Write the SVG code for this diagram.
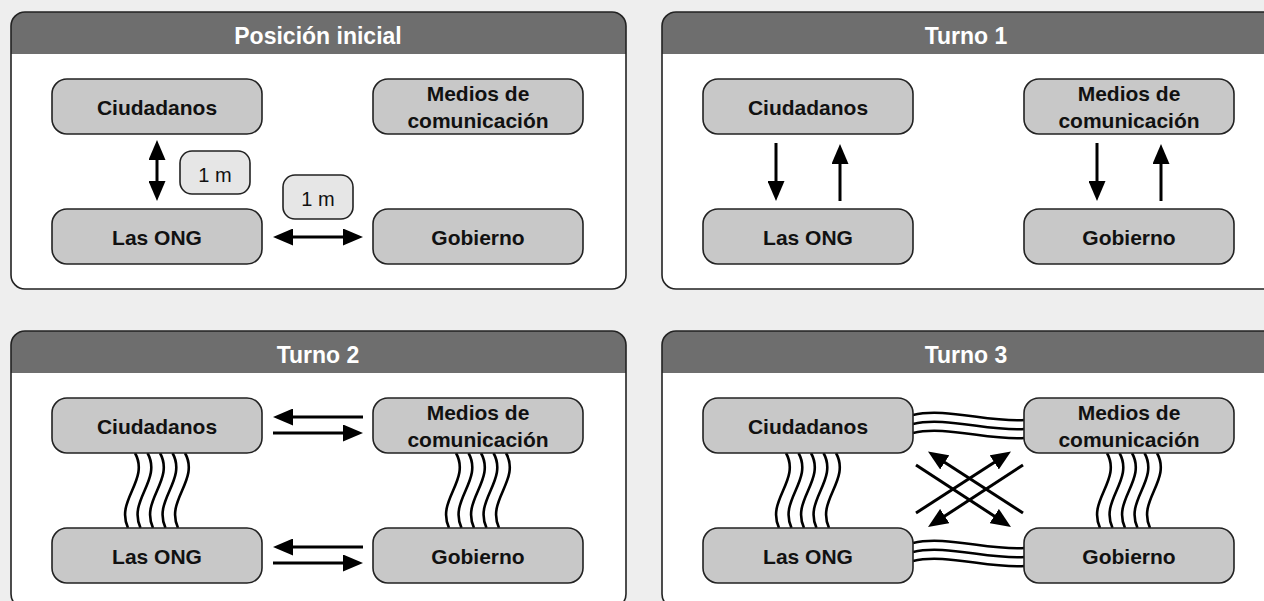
<svg xmlns="http://www.w3.org/2000/svg" width="1264" height="601" viewBox="0 0 1264 601">
<style>
.panel{fill:#ffffff;stroke:none}
.outline{fill:none;stroke:#222;stroke-width:1.6}
.hdr{fill:#6e6e6e}
.htxt{font-family:"Liberation Sans",Arial,sans-serif;font-weight:bold;font-size:23px;fill:#ffffff;text-anchor:middle}
.node rect{fill:#c8c8c8;stroke:#222;stroke-width:1.6}
.node text{font-family:"Liberation Sans",Arial,sans-serif;font-weight:bold;font-size:21px;fill:#111;text-anchor:middle}
.lbl rect{fill:#e6e6e6;stroke:#222;stroke-width:1.6}
.lbl text{font-family:"Liberation Sans",Arial,sans-serif;font-size:20px;fill:#111;text-anchor:middle}
.arr{stroke:#000;stroke-width:3;fill:none}
.wave{stroke:#000;stroke-width:2.6;fill:none}
</style>
<defs>
<marker id="ah" markerUnits="userSpaceOnUse" markerWidth="20" markerHeight="17" refX="10" refY="8.5" orient="auto-start-reverse" viewBox="0 0 20 17">
<path d="M0,0 L20,8.5 L0,17 Z" fill="#000"/>
</marker>
<g id="wv">
<path class="wave" d="M0,453 C15,480 -20,500 -7,528"/>
<path class="wave" d="M12.5,453 C27.5,480 -7.5,500 5.5,528"/>
<path class="wave" d="M25,453 C40,480 5,500 18,528"/>
<path class="wave" d="M37.5,453 C52.5,480 17.5,500 30.5,528"/>
<path class="wave" d="M50,453 C65,480 30,500 43,528"/>
</g>
<g id="hw">
<path class="wave" d="M913,0 C945,-8 990,8 1025,5"/>
<path class="wave" d="M913,9 C945,1 990,17 1025,14"/>
<path class="wave" d="M913,18 C945,10 990,26 1025,23"/>
</g>
</defs>
<rect x="0" y="0" width="1264" height="601" fill="#eeeeee"/>

<g id="panel-posicion-inicial">
<rect class="panel" x="11" y="12" width="615" height="277" rx="14"/>
<path class="hdr" d="M11,54 V26 A14,14 0 0 1 25,12 H612 A14,14 0 0 1 626,26 V54 Z"/>
<rect class="outline" x="11" y="12" width="615" height="277" rx="14"/>
<text class="htxt" x="318" y="44">Posición inicial</text>
</g>
<g id="panel-turno-1" transform="translate(651,0)">
<rect class="panel" x="11" y="12" width="615" height="277" rx="14"/>
<path class="hdr" d="M11,54 V26 A14,14 0 0 1 25,12 H612 A14,14 0 0 1 626,26 V54 Z"/>
<rect class="outline" x="11" y="12" width="615" height="277" rx="14"/>
<text class="htxt" x="315" y="44">Turno 1</text>
</g>
<g id="panel-turno-2" transform="translate(0,319)">
<rect class="panel" x="11" y="12" width="615" height="277" rx="14"/>
<path class="hdr" d="M11,54 V26 A14,14 0 0 1 25,12 H612 A14,14 0 0 1 626,26 V54 Z"/>
<rect class="outline" x="11" y="12" width="615" height="277" rx="14"/>
<text class="htxt" x="318" y="44">Turno 2</text>
</g>
<g id="panel-turno-3" transform="translate(651,319)">
<rect class="panel" x="11" y="12" width="615" height="277" rx="14"/>
<path class="hdr" d="M11,54 V26 A14,14 0 0 1 25,12 H612 A14,14 0 0 1 626,26 V54 Z"/>
<rect class="outline" x="11" y="12" width="615" height="277" rx="14"/>
<text class="htxt" x="315" y="44">Turno 3</text>
</g>

<g id="connectors">
<!-- Posicion inicial -->
<line class="arr" x1="157" y1="150" x2="157" y2="191" marker-start="url(#ah)" marker-end="url(#ah)"/>
<line class="arr" x1="283" y1="237" x2="353" y2="237" marker-start="url(#ah)" marker-end="url(#ah)"/>
<!-- Turno 1 -->
<line class="arr" x1="776" y1="143" x2="776" y2="191" marker-end="url(#ah)"/>
<line class="arr" x1="840" y1="201" x2="840" y2="154" marker-end="url(#ah)"/>
<line class="arr" x1="1097" y1="143" x2="1097" y2="191" marker-end="url(#ah)"/>
<line class="arr" x1="1161" y1="201" x2="1161" y2="154" marker-end="url(#ah)"/>
<!-- Turno 2 -->
<line class="arr" x1="363" y1="417" x2="283" y2="417" marker-end="url(#ah)"/>
<line class="arr" x1="273" y1="433" x2="353" y2="433" marker-end="url(#ah)"/>
<line class="arr" x1="363" y1="547" x2="283" y2="547" marker-end="url(#ah)"/>
<line class="arr" x1="273" y1="563" x2="353" y2="563" marker-end="url(#ah)"/>
<use href="#wv" transform="translate(135,0)"/>
<use href="#wv" transform="translate(456,0)"/>
<!-- Turno 3 -->
<use href="#wv" transform="translate(786,0)"/>
<use href="#wv" transform="translate(1107,0)"/>
<use href="#hw" transform="translate(0,415)"/>
<use href="#hw" transform="translate(0,543)"/>
<line class="arr" x1="1023" y1="513" x2="936.4" y2="456.9" marker-end="url(#ah)"/>
<line class="arr" x1="916" y1="513" x2="1002.6" y2="456.9" marker-end="url(#ah)"/>
<line class="arr" x1="1023" y1="465" x2="936.4" y2="521.5" marker-end="url(#ah)"/>
<line class="arr" x1="916" y1="465" x2="1002.6" y2="521.5" marker-end="url(#ah)"/>
</g>

<g id="labels">
<g id="lbl-1" class="lbl"><rect x="180" y="151" width="70" height="43" rx="12"/><text x="215" y="181.5">1 m</text></g>
<g id="lbl-2" class="lbl"><rect x="283" y="175" width="70" height="44" rx="12"/><text x="318" y="206">1 m</text></g>
</g>

<g id="p1-ciudadanos" class="node"><rect x="52" y="79" width="210" height="55" rx="15"/><text x="157" y="115">Ciudadanos</text></g>
<g id="p1-medios" class="node"><rect x="373" y="79" width="210" height="55" rx="15"/><text x="478" y="100.5">Medios de</text><text x="478" y="127.5">comunicación</text></g>
<g id="p1-ong" class="node"><rect x="52" y="209" width="210" height="55" rx="15"/><text x="157" y="245">Las ONG</text></g>
<g id="p1-gobierno" class="node"><rect x="373" y="209" width="210" height="55" rx="15"/><text x="478" y="245">Gobierno</text></g>

<g id="p2-ciudadanos" class="node"><rect x="703" y="79" width="210" height="55" rx="15"/><text x="808" y="115">Ciudadanos</text></g>
<g id="p2-medios" class="node"><rect x="1024" y="79" width="210" height="55" rx="15"/><text x="1129" y="100.5">Medios de</text><text x="1129" y="127.5">comunicación</text></g>
<g id="p2-ong" class="node"><rect x="703" y="209" width="210" height="55" rx="15"/><text x="808" y="245">Las ONG</text></g>
<g id="p2-gobierno" class="node"><rect x="1024" y="209" width="210" height="55" rx="15"/><text x="1129" y="245">Gobierno</text></g>

<g id="p3-ciudadanos" class="node"><rect x="52" y="398" width="210" height="55" rx="15"/><text x="157" y="434">Ciudadanos</text></g>
<g id="p3-medios" class="node"><rect x="373" y="398" width="210" height="55" rx="15"/><text x="478" y="419.5">Medios de</text><text x="478" y="446.5">comunicación</text></g>
<g id="p3-ong" class="node"><rect x="52" y="528" width="210" height="55" rx="15"/><text x="157" y="564">Las ONG</text></g>
<g id="p3-gobierno" class="node"><rect x="373" y="528" width="210" height="55" rx="15"/><text x="478" y="564">Gobierno</text></g>

<g id="p4-ciudadanos" class="node"><rect x="703" y="398" width="210" height="55" rx="15"/><text x="808" y="434">Ciudadanos</text></g>
<g id="p4-medios" class="node"><rect x="1024" y="398" width="210" height="55" rx="15"/><text x="1129" y="419.5">Medios de</text><text x="1129" y="446.5">comunicación</text></g>
<g id="p4-ong" class="node"><rect x="703" y="528" width="210" height="55" rx="15"/><text x="808" y="564">Las ONG</text></g>
<g id="p4-gobierno" class="node"><rect x="1024" y="528" width="210" height="55" rx="15"/><text x="1129" y="564">Gobierno</text></g>
</svg>
